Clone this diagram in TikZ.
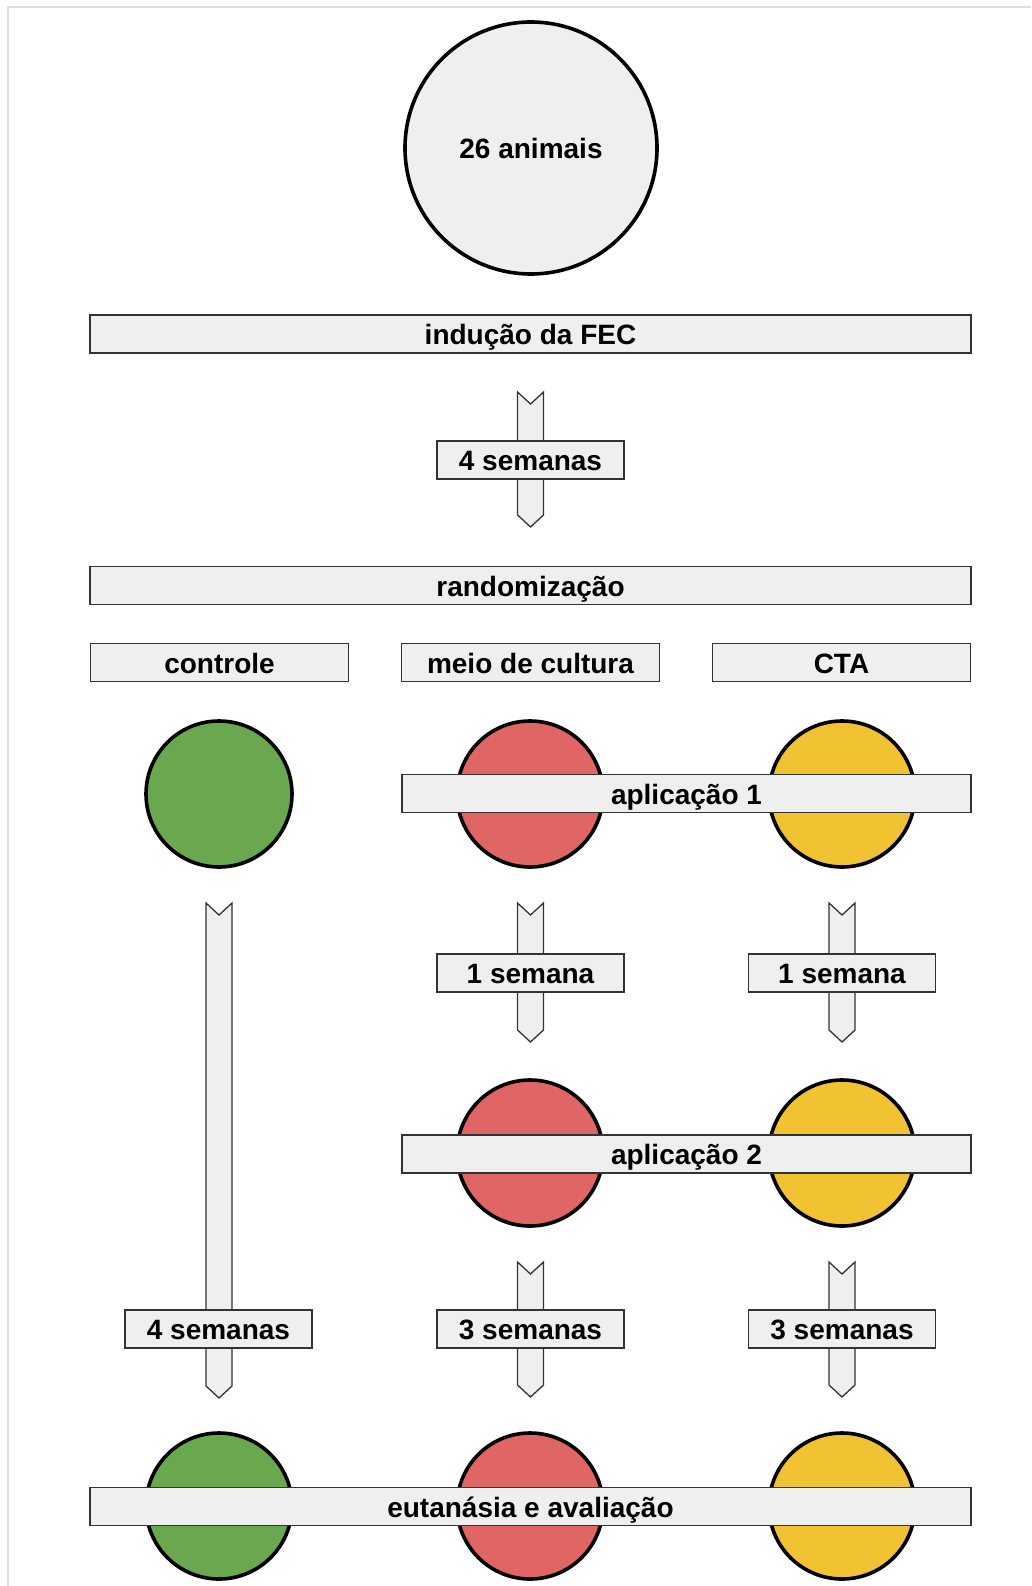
\documentclass[tikz,border=0pt]{standalone}
\usepackage{fontspec}
\setmainfont{Liberation Sans}
\usetikzlibrary{calc}
\definecolor{boxgray}{RGB}{239,239,239}
\definecolor{framegray}{RGB}{222,222,222}
\definecolor{ctrlgreen}{RGB}{106,168,79}
\definecolor{meiored}{RGB}{224,102,102}
\definecolor{ctayellow}{RGB}{241,194,50}
\newcommand{\flowarrow}[2]{%
	\draw[flowline] ($(#1)+(-13,0)$) -- ($(#1)+(0,12)$) -- ($(#1)+(13,0)$)
		-- ($(#2)+(13,-12)$) -- (#2) -- ($(#2)+(-13,-12)$) -- cycle;}

\begin{document}
\begin{tikzpicture}[x=1pt,y=-1pt,
		every node/.style={font=\fontsize{28}{32}\selectfont\bfseries,text height=24pt,text depth=2.6pt},
		bar/.style={draw=black!80,fill=boxgray,line width=1.3pt,minimum height=38pt,inner sep=0pt},
		tag/.style={bar,minimum width=187pt},
		group/.style={bar,minimum width=258pt},
		dot/.style={circle,draw=black,line width=3.6pt,minimum size=146pt,inner sep=0pt},
		flowline/.style={draw=black!80,fill=boxgray,line width=1.3pt,line join=miter}]
			\useasboundingbox (0,0) rectangle (1031,1586);
			\draw[framegray,line width=2pt] (1031,7) -- (8,7) -- (8,1586);
			
			\node[circle,draw=black,line width=3.6pt,fill=boxgray,minimum size=252pt,inner sep=0pt] (animais) at (531,148) {26 animais};
			\node[bar,minimum width=881pt] (inducao) at (530.5,334) {indução da FEC};
			
			\coordinate (s0) at (530.5,392);
			\coordinate (e0) at (530.5,527);
			\flowarrow{s0}{e0}
			\node[tag] (quatro) at (530.5,460) {4 semanas};
			
			\node[bar,minimum width=881pt] (random) at (530.5,585.5) {randomização};
			\node[group] (controle) at (219.5,662.5) {controle};
			\node[group] (meio) at (530.5,662.5) {meio de cultura};
			\node[group] (cta) at (841.5,662.5) {CTA};
			
			% primeira aplicacao
			\node[dot,fill=ctrlgreen] (c1) at (219,794) {};
			\node[dot,fill=meiored] (m1) at (530,794) {};
			\node[dot,fill=ctayellow] (t1) at (842,794) {};
			\node[bar,minimum width=569pt] (apl1) at (686.5,793.5) {aplicação 1};
			
			\coordinate (cs) at (219,903);
			\coordinate (ce) at (219,1398);
			\coordinate (ms1) at (530.5,903);
			\coordinate (me1) at (530.5,1042);
			\coordinate (ts1) at (842,903);
			\coordinate (te1) at (842,1042);
			\flowarrow{cs}{ce}
			\flowarrow{ms1}{me1}
			\flowarrow{ts1}{te1}
			\node[tag] (m1sem) at (530.5,973) {1 semana};
			\node[tag] (t1sem) at (842,973) {1 semana};
			
			% segunda aplicacao
			\node[dot,fill=meiored] (m2) at (530,1153) {};
			\node[dot,fill=ctayellow] (t2) at (842,1153) {};
			\node[bar,minimum width=569pt] (apl2) at (686.5,1154) {aplicação 2};
			
			\coordinate (ms2) at (530.5,1262);
			\coordinate (me2) at (530.5,1397);
			\coordinate (ts2) at (842,1262);
			\coordinate (te2) at (842,1397);
			\flowarrow{ms2}{me2}
			\flowarrow{ts2}{te2}
			\node[tag] (c4sem) at (218.5,1329) {4 semanas};
			\node[tag] (m3sem) at (530.5,1329) {3 semanas};
			\node[tag] (t3sem) at (842,1329) {3 semanas};
			
			% eutanasia
			\node[dot,fill=ctrlgreen] (c3) at (219,1506) {};
			\node[dot,fill=meiored] (m3) at (530,1506) {};
			\node[dot,fill=ctayellow] (t3) at (842,1506) {};
			\node[bar,minimum width=881pt] (eutanasia) at (530.5,1506.5) {eutanásia e avaliação};
\end{tikzpicture}
\end{document}
